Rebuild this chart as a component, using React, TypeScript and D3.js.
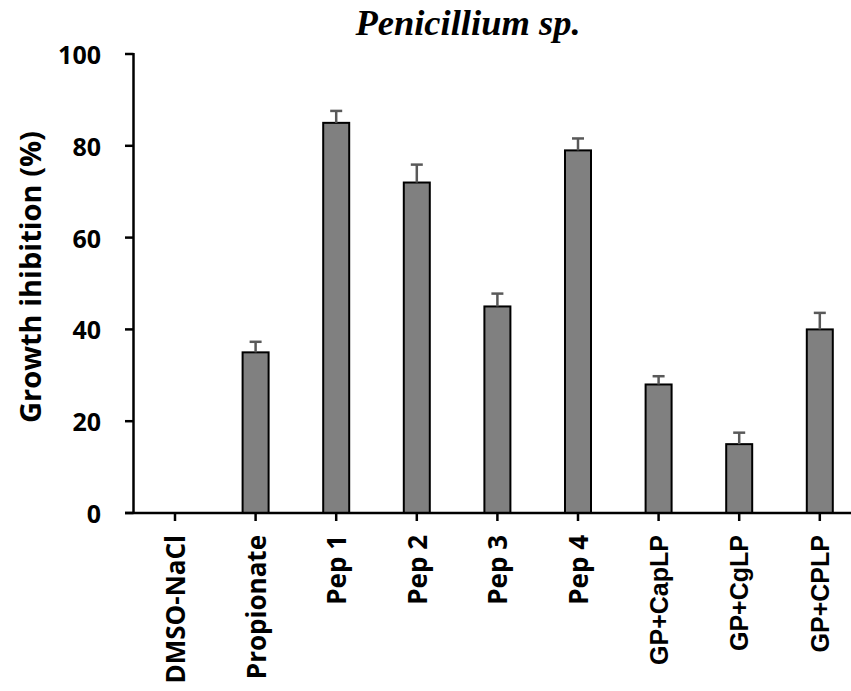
import React from "react";
import * as d3 from "d3";

const categories = [
  "DMSO-NaCl",
  "Propionate",
  "Pep 1",
  "Pep 2",
  "Pep 3",
  "Pep 4",
  "GP+CapLP",
  "GP+CgLP",
  "GP+CPLP",
];
const inhibition = [0, 35, 85, 72, 45, 79, 28, 15, 40];
const errors = [0, 2.3, 2.6, 3.9, 2.8, 2.6, 1.8, 2.5, 3.6];
const yTicks = [0, 20, 40, 60, 80, 100];

const W = 851;
const H = 691;
const axisX = 133.5;
const axisY = 513;

export default function App() {
  const x = d3.scaleBand<string>().domain(categories).range([134.7, 860.1]).padding(0);
  const y = d3.scaleLinear().domain([0, 100]).range([axisY, 54]);
  const barW = 26;
  const capW = 12;
  const cx = (c: string) => (x(c) as number) + x.bandwidth() / 2;

  const humanist = "'Open Sans', Lato, sans-serif";
  const arialLike = "'Liberation Sans', Arial, sans-serif";

  return (
    <svg width={W} height={H} style={{ position: "absolute", left: 0, top: 0, background: "#fff" }}>
      <text
        x={468}
        y={35}
        textAnchor="middle"
        fontFamily="'Liberation Serif', 'Times New Roman', serif"
        fontWeight="bold"
        fontStyle="italic"
        fontSize={36.5}
      >
        Penicillium sp.
      </text>

      <text
        transform={`translate(29, 277) rotate(-90)`}
        textAnchor="middle"
        dominantBaseline="central"
        fontFamily={humanist}
        fontWeight="bold"
        fontSize={29}
      >
        Growth ihibition (%)
      </text>

      {/* bars */}
      {categories.map((c, i) =>
        inhibition[i] > 0 ? (
          <rect
            key={c}
            x={cx(c) - barW / 2}
            y={y(inhibition[i])}
            width={barW}
            height={axisY - y(inhibition[i])}
            fill="#808080"
            stroke="#000"
            strokeWidth={2}
          />
        ) : null
      )}

      {/* upper error bars */}
      {categories.map((c, i) =>
        errors[i] > 0 ? (
          <g key={c} stroke="#595959" strokeWidth={2.5}>
            <line x1={cx(c)} x2={cx(c)} y1={y(inhibition[i])} y2={y(inhibition[i] + errors[i])} />
            <line
              x1={cx(c) - capW / 2}
              x2={cx(c) + capW / 2}
              y1={y(inhibition[i] + errors[i])}
              y2={y(inhibition[i] + errors[i])}
            />
          </g>
        ) : null
      )}

      {/* y axis */}
      <line x1={axisX} x2={axisX} y1={y(100) - 1} y2={axisY} stroke="#000" strokeWidth={2.5} />
      {yTicks.map((t) => (
        <g key={t}>
          <line x1={125} x2={axisX} y1={y(t)} y2={y(t)} stroke="#000" strokeWidth={2.5} />
          <text
            x={101}
            y={y(t)}
            textAnchor="end"
            dominantBaseline="central"
            fontFamily={humanist}
            fontWeight="bold"
            fontSize={25}
          >
            {t}
          </text>
        </g>
      ))}

      {/* x axis */}
      <line x1={125} x2={W} y1={axisY} y2={axisY} stroke="#000" strokeWidth={2.5} />
      {categories.map((c, i) => (
        <g key={c}>
          <line x1={cx(c)} x2={cx(c)} y1={axisY} y2={axisY + 8} stroke="#000" strokeWidth={2.5} />
          <text
            transform={`translate(${cx(c)}, 535) rotate(-90)`}
            textAnchor="end"
            dominantBaseline="central"
            fontFamily={i < 6 ? humanist : arialLike}
            fontWeight="bold"
            fontSize={i < 6 ? 26 : 25}
          >
            {c}
          </text>
        </g>
      ))}
    </svg>
  );
}
